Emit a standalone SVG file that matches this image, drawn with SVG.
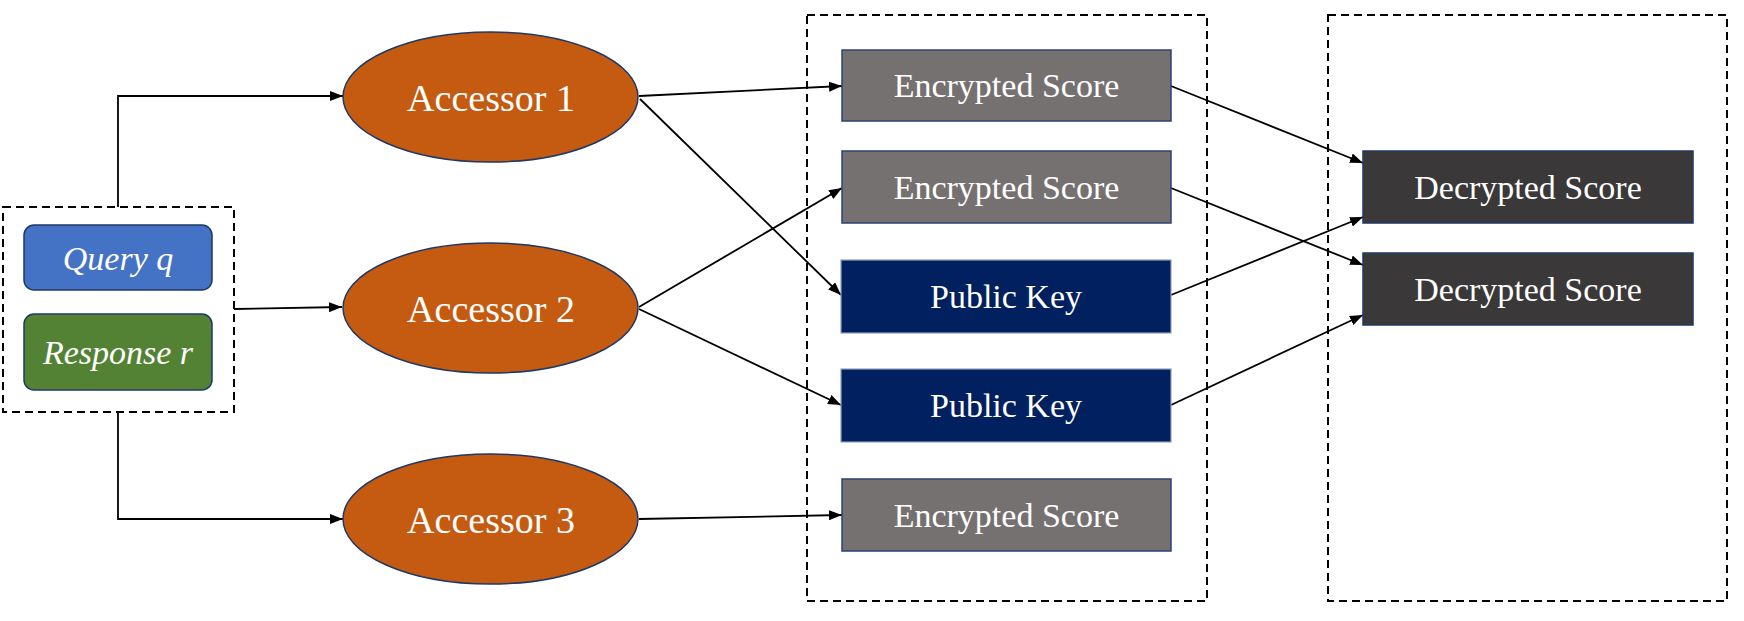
<svg xmlns="http://www.w3.org/2000/svg" width="1744" height="621" viewBox="0 0 1744 621">
  <style>
    .dash { fill: none; stroke: #000; stroke-width: 2; stroke-dasharray: 8 5; }
    .conn { fill: none; stroke: #000; stroke-width: 1.8; }
    .acc { fill: #C55A11; stroke: #1F3864; stroke-width: 1.5; }
    .enc { fill: #767171; stroke: #2E4272; stroke-width: 1.5; }
    .pk { fill: #002060; stroke: #8FA0BC; stroke-width: 1.2; }
    .dec { fill: #3A3838; stroke: #1F3864; stroke-width: 1.5; }
    .q { fill: #4472C4; stroke: #1F3864; stroke-width: 1.5; }
    .r { fill: #548235; stroke: #1F3864; stroke-width: 1.5; }
    .t { font-family: "Liberation Serif", "Times New Roman", serif; fill: #fff; text-anchor: middle; font-size: 34px; }
    .ta { font-size: 38px; }
    .ti { font-style: italic; }
  </style>
  <defs>
    <marker id="arr" markerUnits="userSpaceOnUse" markerWidth="13" markerHeight="10" refX="13" refY="5" orient="auto">
      <path d="M0,0 L13,5 L0,10 z" fill="#000"/>
    </marker>
  </defs>

  <!-- containers -->
  <g id="containers">
    <rect class="dash" x="3" y="207" width="231" height="205"/>
    <rect class="dash" x="807" y="15" width="400" height="586"/>
    <rect class="dash" x="1328" y="15" width="399" height="586"/>
  </g>

  <!-- connectors -->
  <g id="connectors">
    <path class="conn" d="M118,207 V96 H343" marker-end="url(#arr)"/>
    <path class="conn" d="M234,309 L342,307" marker-end="url(#arr)"/>
    <path class="conn" d="M118,412 V519 H343" marker-end="url(#arr)"/>
    <path class="conn" d="M639,96 L842,86" marker-end="url(#arr)"/>
    <path class="conn" d="M640,99 L841,295" marker-end="url(#arr)"/>
    <path class="conn" d="M639,307 L842,188" marker-end="url(#arr)"/>
    <path class="conn" d="M639,309 L841,405" marker-end="url(#arr)"/>
    <path class="conn" d="M639,519 L842,515" marker-end="url(#arr)"/>
    <path class="conn" d="M1171,86 L1363,163" marker-end="url(#arr)"/>
    <path class="conn" d="M1171,188 L1363,265" marker-end="url(#arr)"/>
    <path class="conn" d="M1171,295 L1363,217" marker-end="url(#arr)"/>
    <path class="conn" d="M1171,405 L1363,315" marker-end="url(#arr)"/>
  </g>

  <g id="query">
    <rect class="q" x="24" y="225" width="188" height="65" rx="10"/>
    <text class="t ti" x="118" y="270">Query q</text>
  </g>
  <g id="response">
    <rect class="r" x="24" y="314" width="188" height="76" rx="10"/>
    <text class="t ti" x="118" y="364">Response r</text>
  </g>

  <g id="accessor1">
    <ellipse class="acc" cx="490.5" cy="97" rx="147.5" ry="65"/>
    <text class="t ta" x="491" y="111">Accessor 1</text>
  </g>
  <g id="accessor2">
    <ellipse class="acc" cx="490.5" cy="308" rx="147.5" ry="65"/>
    <text class="t ta" x="491" y="322">Accessor 2</text>
  </g>
  <g id="accessor3">
    <ellipse class="acc" cx="490.5" cy="519" rx="147.5" ry="65"/>
    <text class="t ta" x="491" y="533">Accessor 3</text>
  </g>

  <g id="enc1">
    <rect class="enc" x="842" y="50" width="329" height="71"/>
    <text class="t" x="1006.5" y="97">Encrypted Score</text>
  </g>
  <g id="enc2">
    <rect class="enc" x="842" y="151" width="329" height="72"/>
    <text class="t" x="1006.5" y="199">Encrypted Score</text>
  </g>
  <g id="pk1">
    <rect class="pk" x="841" y="260" width="330" height="73"/>
    <text class="t" x="1006" y="308">Public Key</text>
  </g>
  <g id="pk2">
    <rect class="pk" x="841" y="369" width="330" height="73"/>
    <text class="t" x="1006" y="417">Public Key</text>
  </g>
  <g id="enc3">
    <rect class="enc" x="842" y="479" width="329" height="72"/>
    <text class="t" x="1006.5" y="527">Encrypted Score</text>
  </g>

  <g id="dec1">
    <rect class="dec" x="1363" y="151" width="330" height="72"/>
    <text class="t" x="1528" y="199">Decrypted Score</text>
  </g>
  <g id="dec2">
    <rect class="dec" x="1363" y="253" width="330" height="72"/>
    <text class="t" x="1528" y="301">Decrypted Score</text>
  </g>
</svg>
